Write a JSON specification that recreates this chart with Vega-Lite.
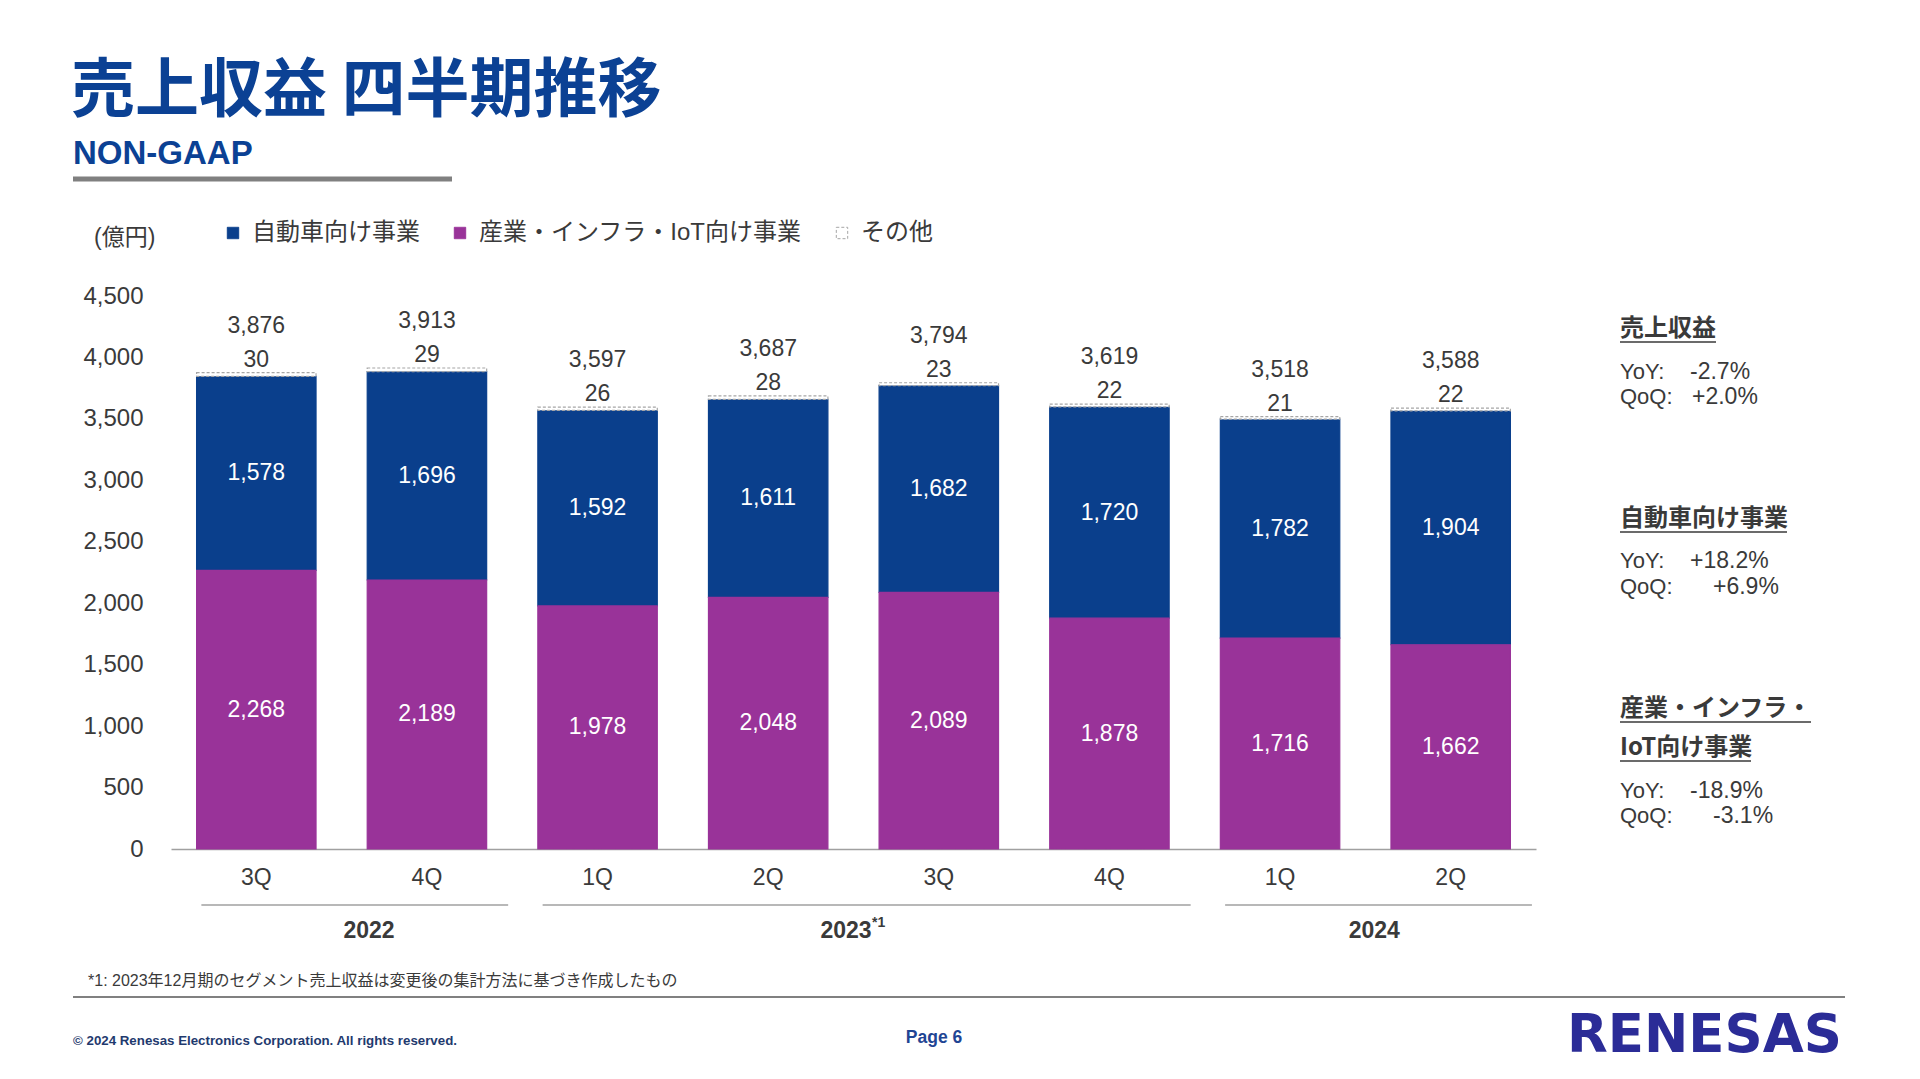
{
  "$schema": "https://vega.github.io/schema/vega-lite/v6.json",
  "width": 1365,
  "height": 553,
  "autosize": {"type": "none"},
  "padding": {"left": 171, "top": 296, "right": 384, "bottom": 230},
  "background": "white",
  "config": {
    "view": {"stroke": null},
    "font": "Liberation Sans, Noto Sans CJK JP",
    "axisX": {
      "labelExpr": "split(datum.value, ' ')[1]",
      "labelAngle": 0,
      "labelFont": "Liberation Sans",
      "labelFontSize": 23,
      "labelColor": "#3A3A3A",
      "labelPadding": 17,
      "ticks": false,
      "grid": false,
      "domainColor": "#A0A0A0",
      "domainWidth": 1.5,
      "title": null
    },
    "axisY": {
      "labelExpr": "format(datum.value, ',')",
      "grid": false,
      "domain": false,
      "ticks": false,
      "labelFont": "Liberation Sans",
      "labelFontSize": 24,
      "labelColor": "#3A3A3A",
      "labelPadding": 28,
      "title": null
    },
    "legend": {
      "symbolType": "square",
      "symbolSize": 130,
      "symbolStrokeWidth": 1,
      "labelFont": "Liberation Sans, Noto Sans CJK JP",
      "labelFontSize": 24,
      "labelColor": "#3A3A3A",
      "labelOffset": 7,
      "columnPadding": 28,
      "padding": 0,
      "labelLimit": 600
    }
  },
  "datasets": {
    "seg": [
      {"q": "2022 3Q", "seg": "自動車向け事業", "v": 1578},
      {"q": "2022 3Q", "seg": "産業・インフラ・IoT向け事業", "v": 2268},
      {"q": "2022 3Q", "seg": "その他", "v": 30},
      {"q": "2022 4Q", "seg": "自動車向け事業", "v": 1696},
      {"q": "2022 4Q", "seg": "産業・インフラ・IoT向け事業", "v": 2189},
      {"q": "2022 4Q", "seg": "その他", "v": 29},
      {"q": "2023 1Q", "seg": "自動車向け事業", "v": 1592},
      {"q": "2023 1Q", "seg": "産業・インフラ・IoT向け事業", "v": 1978},
      {"q": "2023 1Q", "seg": "その他", "v": 26},
      {"q": "2023 2Q", "seg": "自動車向け事業", "v": 1611},
      {"q": "2023 2Q", "seg": "産業・インフラ・IoT向け事業", "v": 2048},
      {"q": "2023 2Q", "seg": "その他", "v": 28},
      {"q": "2023 3Q", "seg": "自動車向け事業", "v": 1682},
      {"q": "2023 3Q", "seg": "産業・インフラ・IoT向け事業", "v": 2089},
      {"q": "2023 3Q", "seg": "その他", "v": 23},
      {"q": "2023 4Q", "seg": "自動車向け事業", "v": 1720},
      {"q": "2023 4Q", "seg": "産業・インフラ・IoT向け事業", "v": 1878},
      {"q": "2023 4Q", "seg": "その他", "v": 22},
      {"q": "2024 1Q", "seg": "自動車向け事業", "v": 1782},
      {"q": "2024 1Q", "seg": "産業・インフラ・IoT向け事業", "v": 1716},
      {"q": "2024 1Q", "seg": "その他", "v": 21},
      {"q": "2024 2Q", "seg": "自動車向け事業", "v": 1904},
      {"q": "2024 2Q", "seg": "産業・インフラ・IoT向け事業", "v": 1662},
      {"q": "2024 2Q", "seg": "その他", "v": 22}
    ],
    "tot": [
      {"q": "2022 3Q", "total": 3876},
      {"q": "2022 4Q", "total": 3913},
      {"q": "2023 1Q", "total": 3597},
      {"q": "2023 2Q", "total": 3687},
      {"q": "2023 3Q", "total": 3794},
      {"q": "2023 4Q", "total": 3619},
      {"q": "2024 1Q", "total": 3518},
      {"q": "2024 2Q", "total": 3588}
    ],
    "years": [
      {"year": "2022", "sup": "", "from": "2022 3Q", "to": "2022 4Q", "anchor": "2022 4Q"},
      {"year": "2023", "sup": "*1", "from": "2023 1Q", "to": "2023 4Q", "anchor": "2023 3Q"},
      {"year": "2024", "sup": "", "from": "2024 1Q", "to": "2024 2Q", "anchor": "2024 2Q"}
    ]
  },
  "layer": [
    {
      "data": {"name": "seg"},
      "transform": [
        {"calculate": "indexof(['産業・インフラ・IoT向け事業','自動車向け事業','その他'], datum.seg)", "as": "ord"}
      ],
      "mark": {"type": "bar", "strokeWidth": 1.2},
      "encoding": {
        "x": {
          "field": "q", "type": "ordinal", "title": null,
          "scale": {
            "domain": ["2022 3Q","2022 4Q","2023 1Q","2023 2Q","2023 3Q","2023 4Q","2024 1Q","2024 2Q"],
            "paddingInner": 0.3, "paddingOuter": 0.15
          },
          "axis": {"labelExpr": "split(datum.value, ' ')[1]", "labelAngle": 0}
        },
        "y": {
          "field": "v", "type": "quantitative", "stack": "zero", "title": null,
          "scale": {"domain": [0, 4500], "nice": false},
          "axis": {"values": [0, 500, 1000, 1500, 2000, 2500, 3000, 3500, 4000, 4500], "labelExpr": "format(datum.value, ',')"}
        },
        "order": {"field": "ord", "type": "quantitative"},
        "fill": {
          "field": "seg", "type": "nominal",
          "scale": {
            "domain": ["自動車向け事業", "産業・インフラ・IoT向け事業", "その他"],
            "range": ["#0A3F8C", "#993399", "#FFFFFF"]
          },
          "legend": {"orient": "none", "legendX": 50, "legendY": -75, "direction": "horizontal", "title": null}
        },
        "stroke": {
          "field": "seg", "type": "nominal",
          "scale": {
            "domain": ["自動車向け事業", "産業・インフラ・IoT向け事業", "その他"],
            "range": ["#0A3F8C", "#993399", "#A6A6A6"]
          },
          "legend": {"orient": "none", "legendX": 50, "legendY": -75, "direction": "horizontal", "title": null}
        },
        "strokeDash": {
          "field": "seg", "type": "nominal",
          "scale": {
            "domain": ["自動車向け事業", "産業・インフラ・IoT向け事業", "その他"],
            "range": [[1, 0], [1, 0], [3, 2]]
          },
          "legend": {"orient": "none", "legendX": 50, "legendY": -75, "direction": "horizontal", "title": null}
        }
      }
    },
    {
      "data": {"name": "seg"},
      "transform": [
        {"calculate": "indexof(['産業・インフラ・IoT向け事業','自動車向け事業','その他'], datum.seg)", "as": "ord"},
        {"stack": "v", "groupby": ["q"], "sort": [{"field": "ord"}], "as": ["v0", "v1"]},
        {"filter": "datum.seg != 'その他'"},
        {"calculate": "(datum.v0 + datum.v1) / 2", "as": "mid"}
      ],
      "mark": {"type": "text", "font": "Liberation Sans", "fontSize": 23, "color": "#FFFFFF", "baseline": "middle"},
      "encoding": {
        "x": {"field": "q", "type": "ordinal", "title": null},
        "y": {"field": "mid", "type": "quantitative", "title": null},
        "text": {"field": "v", "type": "quantitative", "format": ","}
      }
    },
    {
      "data": {"name": "seg"},
      "transform": [
        {"calculate": "indexof(['産業・インフラ・IoT向け事業','自動車向け事業','その他'], datum.seg)", "as": "ord"},
        {"stack": "v", "groupby": ["q"], "sort": [{"field": "ord"}], "as": ["v0", "v1"]},
        {"filter": "datum.seg == 'その他'"}
      ],
      "mark": {"type": "text", "font": "Liberation Sans", "fontSize": 23, "color": "#3A3A3A", "baseline": "middle", "dy": -13},
      "encoding": {
        "x": {"field": "q", "type": "ordinal", "title": null},
        "y": {"field": "v1", "type": "quantitative", "title": null},
        "text": {"field": "v", "type": "quantitative", "format": ","}
      }
    },
    {
      "data": {"name": "tot"},
      "mark": {"type": "text", "font": "Liberation Sans", "fontSize": 23, "color": "#3A3A3A", "baseline": "middle", "dy": -47},
      "encoding": {
        "x": {"field": "q", "type": "ordinal", "title": null},
        "y": {"field": "total", "type": "quantitative", "title": null},
        "text": {"field": "total", "type": "quantitative", "format": ","}
      }
    },
    {
      "data": {"name": "years"},
      "mark": {"type": "rule", "color": "#A0A0A0", "strokeWidth": 1.5},
      "encoding": {
        "x": {"field": "from", "type": "ordinal", "bandPosition": 0.04, "title": null},
        "x2": {"field": "to", "bandPosition": 1.18},
        "y": {"value": 609}
      }
    },
    {
      "data": {"name": "years"},
      "transform": [{"filter": "datum.year == '2022'"}],
      "mark": {"type": "text", "font": "Liberation Sans", "fontSize": 23, "fontWeight": "bold", "color": "#3A3A3A", "baseline": "middle"},
      "encoding": {
        "x": {"field": "anchor", "type": "ordinal", "bandPosition": 0.015, "title": null},
        "y": {"value": 635},
        "text": {"field": "year", "type": "nominal"}
      }
    },
    {
      "data": {"name": "years"},
      "transform": [{"filter": "datum.year == '2023'"}],
      "mark": {"type": "text", "font": "Liberation Sans", "fontSize": 23, "fontWeight": "bold", "color": "#3A3A3A", "baseline": "middle"},
      "encoding": {
        "x": {"field": "anchor", "type": "ordinal", "bandPosition": -0.277, "title": null},
        "y": {"value": 635},
        "text": {"field": "year", "type": "nominal"}
      }
    },
    {
      "data": {"name": "years"},
      "transform": [{"filter": "datum.year == '2023'"}],
      "mark": {"type": "text", "font": "Liberation Sans", "fontSize": 14, "fontWeight": "bold", "color": "#3A3A3A", "baseline": "middle", "align": "left", "dx": 26},
      "encoding": {
        "x": {"field": "anchor", "type": "ordinal", "bandPosition": -0.277, "title": null},
        "y": {"value": 627},
        "text": {"field": "sup", "type": "nominal"}
      }
    },
    {
      "data": {"name": "years"},
      "transform": [{"filter": "datum.year == '2024'"}],
      "mark": {"type": "text", "font": "Liberation Sans", "fontSize": 23, "fontWeight": "bold", "color": "#3A3A3A", "baseline": "middle"},
      "encoding": {
        "x": {"field": "anchor", "type": "ordinal", "bandPosition": -0.14, "title": null},
        "y": {"value": 635},
        "text": {"field": "year", "type": "nominal"}
      }
    },
    {
      "data": {"values": [{}]},
      "mark": {"type": "text", "text": "売上収益 四半期推移", "font": "Noto Sans CJK JP", "fontSize": 64, "fontWeight": "bold", "color": "#0B4194", "align": "left", "baseline": "middle"},
      "encoding": {"x": {"value": -100}, "y": {"value": -204}}
    },
    {
      "data": {"values": [{}]},
      "mark": {"type": "text", "text": "NON-GAAP", "font": "Liberation Sans", "fontSize": 33, "fontWeight": "bold", "color": "#0B4194", "align": "left", "baseline": "middle"},
      "encoding": {"x": {"value": -98}, "y": {"value": -142}}
    },
    {
      "data": {"values": [{}]},
      "mark": {"type": "rule", "color": "#808080", "strokeWidth": 5},
      "encoding": {"x": {"value": -98}, "x2": {"value": 281}, "y": {"value": -117}}
    },
    {
      "data": {"values": [{}]},
      "mark": {"type": "text", "text": "(億円)", "font": "Liberation Sans, Noto Sans CJK JP", "fontSize": 23, "color": "#3A3A3A", "align": "left", "baseline": "middle"},
      "encoding": {"x": {"value": -77}, "y": {"value": -58}}
    },
    {
      "data": {"values": [{}]},
      "mark": {"type": "text", "text": "売上収益", "font": "Noto Sans CJK JP", "fontSize": 24, "fontWeight": "bold", "color": "#3A3A3A", "align": "left", "baseline": "middle"},
      "encoding": {"x": {"value": 1449}, "y": {"value": 33}}
    },
    {
      "data": {"values": [{}]},
      "mark": {"type": "rule", "color": "#3A3A3A", "strokeWidth": 1.5},
      "encoding": {"x": {"value": 1449}, "x2": {"value": 1545}, "y": {"value": 46}}
    },
    {
      "data": {"values": [{}]},
      "mark": {"type": "text", "text": "YoY:", "fontSize": 22, "color": "#3A3A3A", "align": "left", "baseline": "middle"},
      "encoding": {"x": {"value": 1449}, "y": {"value": 76}}
    },
    {
      "data": {"values": [{}]},
      "mark": {"type": "text", "text": "-2.7%", "fontSize": 23, "color": "#3A3A3A", "align": "left", "baseline": "middle"},
      "encoding": {"x": {"value": 1519}, "y": {"value": 76}}
    },
    {
      "data": {"values": [{}]},
      "mark": {"type": "text", "text": "QoQ:", "fontSize": 22, "color": "#3A3A3A", "align": "left", "baseline": "middle"},
      "encoding": {"x": {"value": 1449}, "y": {"value": 101}}
    },
    {
      "data": {"values": [{}]},
      "mark": {"type": "text", "text": "+2.0%", "fontSize": 23, "color": "#3A3A3A", "align": "left", "baseline": "middle"},
      "encoding": {"x": {"value": 1521}, "y": {"value": 101}}
    },
    {
      "data": {"values": [{}]},
      "mark": {"type": "text", "text": "自動車向け事業", "font": "Noto Sans CJK JP", "fontSize": 24, "fontWeight": "bold", "color": "#3A3A3A", "align": "left", "baseline": "middle"},
      "encoding": {"x": {"value": 1449}, "y": {"value": 223}}
    },
    {
      "data": {"values": [{}]},
      "mark": {"type": "rule", "color": "#3A3A3A", "strokeWidth": 1.5},
      "encoding": {"x": {"value": 1449}, "x2": {"value": 1616}, "y": {"value": 236}}
    },
    {
      "data": {"values": [{}]},
      "mark": {"type": "text", "text": "YoY:", "fontSize": 22, "color": "#3A3A3A", "align": "left", "baseline": "middle"},
      "encoding": {"x": {"value": 1449}, "y": {"value": 265}}
    },
    {
      "data": {"values": [{}]},
      "mark": {"type": "text", "text": "+18.2%", "fontSize": 23, "color": "#3A3A3A", "align": "left", "baseline": "middle"},
      "encoding": {"x": {"value": 1519}, "y": {"value": 265}}
    },
    {
      "data": {"values": [{}]},
      "mark": {"type": "text", "text": "QoQ:", "fontSize": 22, "color": "#3A3A3A", "align": "left", "baseline": "middle"},
      "encoding": {"x": {"value": 1449}, "y": {"value": 291}}
    },
    {
      "data": {"values": [{}]},
      "mark": {"type": "text", "text": "+6.9%", "fontSize": 23, "color": "#3A3A3A", "align": "left", "baseline": "middle"},
      "encoding": {"x": {"value": 1542}, "y": {"value": 291}}
    },
    {
      "data": {"values": [{}]},
      "mark": {"type": "text", "text": "産業・インフラ・", "font": "Noto Sans CJK JP", "fontSize": 24, "fontWeight": "bold", "color": "#3A3A3A", "align": "left", "baseline": "middle"},
      "encoding": {"x": {"value": 1449}, "y": {"value": 413}}
    },
    {
      "data": {"values": [{}]},
      "mark": {"type": "rule", "color": "#3A3A3A", "strokeWidth": 1.5},
      "encoding": {"x": {"value": 1449}, "x2": {"value": 1640}, "y": {"value": 426}}
    },
    {
      "data": {"values": [{}]},
      "mark": {"type": "text", "text": "IoT向け事業", "font": "Noto Sans CJK JP", "fontSize": 24, "fontWeight": "bold", "color": "#3A3A3A", "align": "left", "baseline": "middle"},
      "encoding": {"x": {"value": 1449}, "y": {"value": 452}}
    },
    {
      "data": {"values": [{}]},
      "mark": {"type": "rule", "color": "#3A3A3A", "strokeWidth": 1.5},
      "encoding": {"x": {"value": 1449}, "x2": {"value": 1580}, "y": {"value": 465}}
    },
    {
      "data": {"values": [{}]},
      "mark": {"type": "text", "text": "YoY:", "fontSize": 22, "color": "#3A3A3A", "align": "left", "baseline": "middle"},
      "encoding": {"x": {"value": 1449}, "y": {"value": 495}}
    },
    {
      "data": {"values": [{}]},
      "mark": {"type": "text", "text": "-18.9%", "fontSize": 23, "color": "#3A3A3A", "align": "left", "baseline": "middle"},
      "encoding": {"x": {"value": 1519}, "y": {"value": 495}}
    },
    {
      "data": {"values": [{}]},
      "mark": {"type": "text", "text": "QoQ:", "fontSize": 22, "color": "#3A3A3A", "align": "left", "baseline": "middle"},
      "encoding": {"x": {"value": 1449}, "y": {"value": 520}}
    },
    {
      "data": {"values": [{}]},
      "mark": {"type": "text", "text": "-3.1%", "fontSize": 23, "color": "#3A3A3A", "align": "left", "baseline": "middle"},
      "encoding": {"x": {"value": 1542}, "y": {"value": 520}}
    },
    {
      "data": {"values": [{}]},
      "mark": {"type": "text", "text": "*1: 2023年12月期のセグメント売上収益は変更後の集計方法に基づき作成したもの", "font": "Liberation Sans, Noto Sans CJK JP", "fontSize": 16, "color": "#3A3A3A", "align": "left", "baseline": "middle"},
      "encoding": {"x": {"value": -83}, "y": {"value": 685}}
    },
    {
      "data": {"values": [{}]},
      "mark": {"type": "rule", "color": "#808080", "strokeWidth": 2},
      "encoding": {"x": {"value": -98}, "x2": {"value": 1674}, "y": {"value": 701}}
    },
    {
      "data": {"values": [{}]},
      "mark": {"type": "text", "text": "© 2024 Renesas Electronics Corporation. All rights reserved.", "font": "Liberation Sans", "fontSize": 13.3, "fontWeight": "bold", "color": "#1F3A6E", "align": "left", "baseline": "middle"},
      "encoding": {"x": {"value": -98}, "y": {"value": 745}}
    },
    {
      "data": {"values": [{}]},
      "mark": {"type": "text", "text": "Page 6", "font": "Liberation Sans", "fontSize": 17.5, "fontWeight": "bold", "color": "#1F4594", "align": "center", "baseline": "middle"},
      "encoding": {"x": {"value": 763}, "y": {"value": 742}}
    },
    {
      "data": {"values": [{}]},
      "mark": {"type": "text", "text": "RENESAS", "font": "DejaVu Sans", "fontSize": 53, "fontWeight": "bold", "color": "#2B2C97", "align": "left", "baseline": "middle"},
      "encoding": {"x": {"value": 1396}, "y": {"value": 740}}
    }
  ]
}
